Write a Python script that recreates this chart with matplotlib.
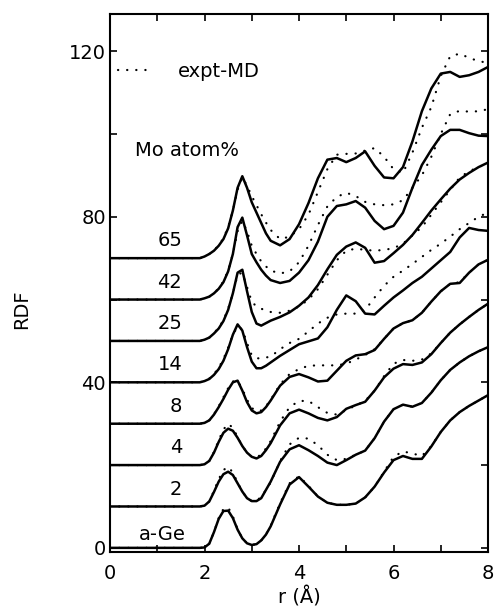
import matplotlib
matplotlib.use('Agg')
import matplotlib.pyplot as plt
from matplotlib.ticker import MultipleLocator

# r grid (Angstrom) shared by all curves
r = [0.0, 1.9, 2.0, 2.1, 2.2, 2.3, 2.4, 2.5, 2.6, 2.7, 2.8, 2.9, 3.0, 3.1, 3.2, 3.3, 3.4,
     3.6, 3.8, 4.0, 4.2, 4.4, 4.6, 4.8, 5.0, 5.2, 5.4, 5.6, 5.8, 6.0, 6.2, 6.4, 6.6, 6.8,
     7.0, 7.2, 7.4, 7.6, 7.8, 8.0]

labels = ['a-Ge', '2', '4', '8', '14', '25', '42', '65']
offsets = [0, 10, 20, 30, 40, 50, 60, 70]

# MD model curves (solid)
md_a_ge = [0, 0, 0.1, 1.0, 3.8, 7.0, 8.9, 9.0, 7.2, 4.4, 2.3, 1.1, 0.7, 0.9, 1.8, 3.2, 5.2,
           10.5, 15.3, 17.1, 14.8, 12.4, 10.9, 10.4, 10.4, 10.7, 12.2, 14.8, 18.2, 21.2,
           22.2, 21.5, 21.5, 24.5, 28.0, 30.8, 32.8, 34.3, 35.6, 36.9]
md_2 = [0, 0, 0.2, 1.2, 3.5, 6.0, 7.8, 8.4, 7.6, 5.6, 3.6, 2.0, 1.3, 1.3, 2.0, 4.0, 6.0,
        10.8, 13.8, 14.8, 13.6, 12.2, 10.6, 10.0, 11.2, 12.5, 13.5, 16.5, 20.5, 23.5,
        24.6, 24.1, 25.0, 27.5, 30.5, 33.0, 34.8, 36.3, 37.5, 38.5]
md_4 = [0, 0, 0.2, 1.0, 3.0, 5.6, 7.8, 8.8, 8.3, 6.6, 4.6, 3.0, 2.0, 1.6, 2.2, 3.6, 5.3,
        9.6, 12.5, 13.4, 12.5, 11.4, 10.8, 11.6, 13.6, 14.5, 15.3, 18.0, 21.2, 23.3,
        24.4, 24.2, 24.8, 26.8, 29.5, 32.0, 34.0, 35.8, 37.5, 39.0]
md_8 = [0, 0, 0.2, 0.8, 2.2, 4.0, 6.0, 8.2, 10.0, 10.4, 8.0, 5.2, 3.2, 2.5, 2.8, 4.0, 5.6,
        9.2, 11.3, 12.0, 11.2, 10.2, 10.4, 12.8, 15.2, 16.5, 16.8, 17.8, 20.5, 23.0,
        24.3, 25.0, 26.8, 29.5, 32.0, 33.8, 34.0, 36.5, 38.5, 39.6]
md_14 = [0, 0, 0.3, 0.8, 1.8, 3.2, 5.2, 8.0, 11.5, 14.0, 12.5, 8.5, 5.0, 3.4, 3.4, 4.0, 4.8,
         6.4, 7.8, 9.2, 9.9, 10.6, 13.3, 17.5, 21.0, 19.6, 16.6, 16.4, 18.5, 20.5,
         22.2, 24.0, 25.5, 27.5, 29.5, 31.5, 35.0, 37.3, 36.8, 36.6]
md_25 = [0, 0, 0.3, 0.8, 1.8, 3.0, 4.8, 7.5, 11.5, 16.5, 17.2, 12.0, 7.0, 4.2, 3.7, 4.3, 4.9,
         5.8, 6.9, 8.5, 10.5, 13.5, 17.3, 20.8, 22.8, 23.8, 22.5, 18.9, 19.3, 21.2,
         23.2, 25.6, 28.5, 31.5, 34.2, 36.8, 39.0, 40.6, 42.0, 43.1]
md_42 = [0, 0, 0.3, 0.7, 1.5, 2.6, 4.2, 6.8, 11.0, 17.5, 19.8, 15.5, 11.0, 9.0, 7.2, 5.8, 4.7,
         4.0, 4.5, 6.5, 9.5, 14.0, 20.0, 22.6, 23.0, 23.8, 22.2, 19.0, 17.0, 17.8,
         21.0, 27.0, 32.5, 36.2, 39.5, 41.0, 41.0, 40.2, 39.6, 39.5]
md_65 = [0, 0, 0.4, 1.0, 1.8, 3.0, 4.6, 7.2, 11.5, 17.0, 19.8, 17.0, 13.5, 11.0, 8.5, 6.0, 4.2,
         3.1, 4.6, 8.2, 13.3, 19.3, 23.8, 24.2, 23.2, 24.2, 25.8, 22.3, 19.5, 19.3,
         22.0, 28.2, 35.5, 41.0, 44.6, 45.0, 43.8, 44.2, 45.0, 46.2]

# experiment (dotted)
expt_a_ge = [0, 0, 0.1, 1.0, 3.8, 7.2, 9.4, 9.8, 7.6, 4.5, 2.3, 1.1, 0.7, 0.9, 1.8, 3.2, 5.4,
             10.8, 15.6, 17.3, 15.0, 12.4, 10.9, 10.4, 10.4, 10.7, 12.2, 14.8, 18.4, 22.0,
             23.3, 22.8, 22.2, 24.6, 28.0, 30.8, 32.8, 34.3, 35.6, 36.9]
expt_2 = [0, 0, 0.2, 1.2, 3.8, 6.6, 8.8, 9.6, 8.2, 5.8, 3.6, 2.0, 1.3, 1.4, 2.3, 4.0, 5.8,
          11.0, 15.0, 16.6, 16.4, 14.8, 12.5, 11.2, 11.5, 12.5, 13.5, 16.5, 20.5, 23.5,
          24.6, 24.1, 25.0, 27.5, 30.5, 33.0, 34.8, 36.3, 37.5, 38.5]
expt_4 = [0, 0, 0.2, 1.0, 3.2, 6.0, 8.6, 10.0, 9.0, 6.8, 4.6, 3.0, 2.0, 1.8, 2.6, 4.0, 5.8,
          10.5, 14.0, 15.5, 15.5, 14.0, 12.6, 12.2, 13.3, 14.4, 15.5, 18.0, 21.5, 24.5,
          25.4, 25.2, 25.5, 27.0, 29.5, 32.0, 34.0, 35.8, 37.5, 39.0]
expt_8 = [0, 0, 0.2, 0.8, 2.3, 4.2, 6.4, 8.6, 10.2, 10.4, 8.4, 5.8, 3.8, 3.0, 3.2, 4.2, 5.8,
          9.5, 12.0, 13.2, 14.0, 14.1, 14.1, 14.1, 14.5, 15.5, 16.6, 18.0, 20.5, 23.0,
          24.3, 25.0, 26.8, 29.5, 32.0, 33.8, 34.2, 36.5, 38.5, 39.6]
expt_14 = [0, 0, 0.3, 0.9, 2.0, 3.5, 5.6, 8.4, 11.5, 13.5, 12.8, 9.5, 6.5, 5.8, 5.8, 6.0, 6.2,
           8.0, 9.5, 10.5, 12.3, 14.2, 15.6, 16.4, 16.6, 16.6, 17.5, 20.5, 23.3, 25.5,
           27.0, 28.6, 30.3, 32.0, 33.5, 35.2, 37.0, 38.5, 40.0, 41.0]
expt_25 = [0, 0, 0.3, 0.8, 1.9, 3.2, 5.0, 7.8, 11.5, 16.0, 16.5, 13.0, 9.5, 8.3, 7.8, 7.3, 7.0,
           6.8, 7.3, 8.3, 10.0, 12.5, 16.0, 19.5, 21.8, 22.3, 22.0, 21.8, 22.0, 22.4,
           23.5, 25.5, 27.5, 30.5, 33.5, 36.5, 39.5, 41.0, 42.0, 43.0]
expt_42 = [0, 0, 0.3, 0.7, 1.5, 2.7, 4.4, 7.0, 11.0, 16.5, 19.0, 16.5, 13.0, 11.0, 9.2, 8.0, 7.0,
           6.3, 6.8, 9.0, 13.0, 18.0, 22.5, 24.8, 25.8, 25.0, 23.6, 23.0, 22.8, 23.0,
           24.0, 27.0, 30.0, 34.5, 40.0, 44.8, 45.6, 45.4, 45.5, 46.0]
expt_65 = [0, 0, 0.4, 1.0, 1.9, 3.1, 4.8, 7.5, 11.5, 16.5, 19.5, 17.5, 15.0, 12.8, 10.6, 8.6, 6.8,
           4.6, 5.2, 7.0, 10.5, 16.0, 21.5, 25.0, 25.2, 25.3, 26.0, 26.6, 24.5, 21.5,
           20.6, 25.5, 31.5, 36.5, 44.0, 48.8, 49.4, 48.4, 47.6, 47.2]

md = [md_a_ge, md_2, md_4, md_8, md_14, md_25, md_42, md_65]
expt = [expt_a_ge, expt_2, expt_4, expt_8, expt_14, expt_25, expt_42, expt_65]

plt.rcParams['font.family'] = ['DejaVu Sans']
fig = plt.figure(figsize=(4.94, 6.16), dpi=100)
ax = fig.add_axes([0.2227, 0.1039, 0.7652, 0.8734])

for i in range(len(labels)):
    off = offsets[i]
    ax.plot(r, [v + off for v in expt[i]], color='black', lw=1.6,
            linestyle=(0, (0.1, 4)), dash_capstyle='round',
            label='expt-MD' if i == 0 else None)
    ax.plot(r, [v + off for v in md[i]], color='black', lw=1.8,
            solid_joinstyle='round')
    if labels[i] == 'a-Ge':
        ax.text(1.11, off + 3.2, labels[i], ha='center', va='center', fontsize=14)
    else:
        ax.text(1.53, off + 4.2, labels[i], ha='right', va='center', fontsize=14)

ax.set_xlim(0, 8)
ax.set_ylim(-1, 129)
ax.xaxis.set_major_locator(MultipleLocator(2))
ax.xaxis.set_minor_locator(MultipleLocator(1))
ax.yaxis.set_major_locator(MultipleLocator(40))
ax.yaxis.set_minor_locator(MultipleLocator(20))
ax.tick_params(which='both', direction='in', top=True, right=True, length=5, width=1.2)
ax.tick_params(which='major', labelsize=14)
ax.tick_params(axis='x', pad=9)
ax.tick_params(axis='y', pad=3)
for s in ax.spines.values():
    s.set_linewidth(1.5)

ax.set_xlabel('r (Å)', fontsize=14, labelpad=2)
fig.text(22 / 494, 1 - 309 / 616, 'RDF', rotation=90, ha='center', va='center', fontsize=14)

ax.legend(loc='center left', bbox_to_anchor=(0.021, 0.894), frameon=False,
          handlelength=1.8, handletextpad=1.3, borderpad=0, borderaxespad=0, fontsize=14)
ax.text(0.066, 0.747, 'Mo atom%', transform=ax.transAxes, fontsize=14, va='center')

fig.savefig('out.png', dpi=100)
